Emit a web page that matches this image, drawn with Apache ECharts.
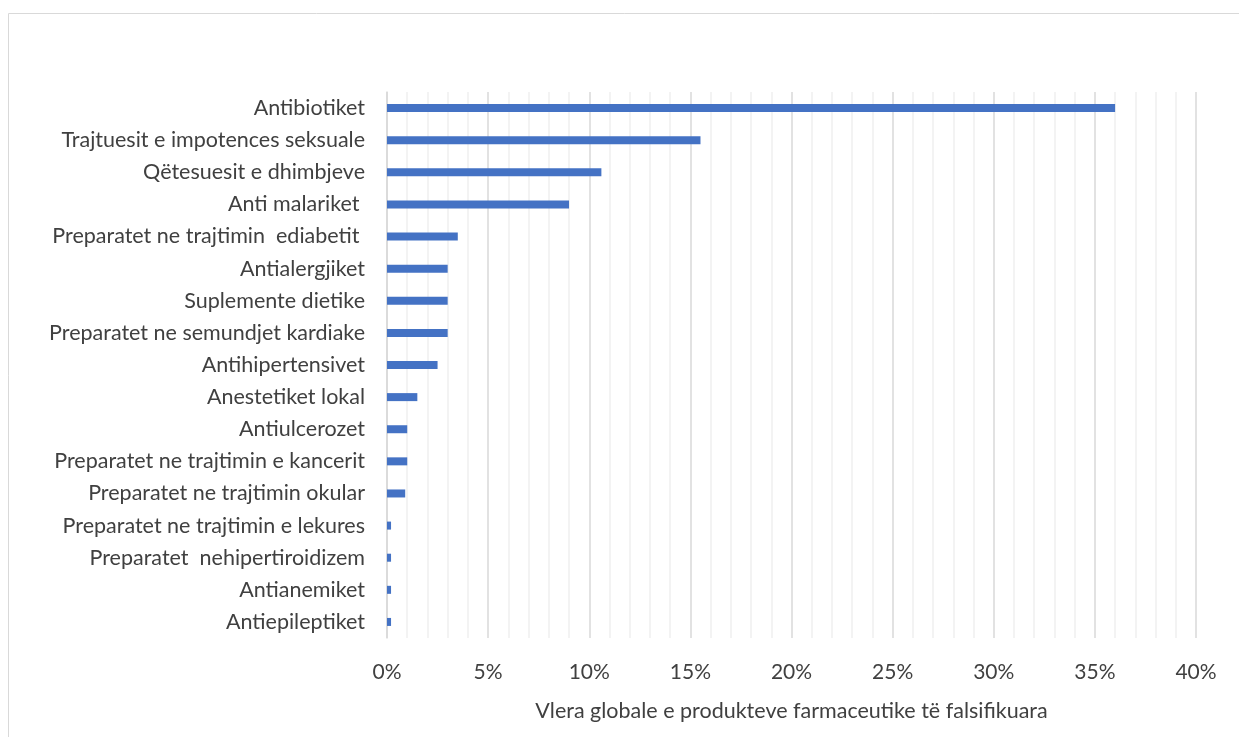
<!DOCTYPE html>
<html>
<head>
<meta charset="utf-8">
<script src="https://cdn.jsdelivr.net/npm/echarts@6/dist/echarts.min.js"></script>
<style>html,body{margin:0;padding:0;background:#fff}#c{width:1239px;height:737px}</style>
</head>
<body>
<div id="c"></div>
<script>
const categories = [
  "Antibiotiket",
  "Trajtuesit e impotences seksuale",
  "Qëtesuesit e dhimbjeve",
  "Anti malariket ",
  "Preparatet ne trajtimin  ediabetit ",
  "Antialergjiket",
  "Suplemente dietike",
  "Preparatet ne semundjet kardiake",
  "Antihipertensivet",
  "Anestetiket lokal",
  "Antiulcerozet",
  "Preparatet ne trajtimin e kancerit",
  "Preparatet ne trajtimin okular",
  "Preparatet ne trajtimin e lekures",
  "Preparatet  nehipertiroidizem",
  "Antianemiket",
  "Antiepileptiket"
];
const values = [36.0, 15.5, 10.6, 9.0, 3.5, 3.0, 3.0, 3.0, 2.5, 1.5, 1.0, 1.0, 0.9, 0.2, 0.2, 0.2, 0.2];
const xTicks = { min: 0, max: 40, interval: 5 };
const xAxisName = "Vlera globale e produkteve farmaceutike të falsifikuara";

const chart = echarts.init(document.getElementById('c'));
chart.setOption({
  animation: false,
  graphic: [{
    type: 'rect', shape: { x: 8.5, y: 13.5, width: 1240, height: 740 },
    style: { fill: 'none', stroke: '#d9d9d9', lineWidth: 1 }, silent: true, z: -10
  }],
  grid: { left: 387, right: 43, top: 92, bottom: 99, containLabel: false },
  xAxis: {
    type: 'value', min: xTicks.min, max: xTicks.max, interval: xTicks.interval,
    name: xAxisName, nameLocation: 'middle', nameGap: 62,
    nameTextStyle: { fontFamily: 'Lato', fontSize: 21.5, color: '#404040' },
    axisLine: { show: false }, axisTick: { show: false },
    axisLabel: { formatter: v => v + '%', fontFamily: 'Lato', fontSize: 21, color: '#404040', margin: 24 },
    splitLine: { show: true, lineStyle: { color: '#d9d9d9', width: 1.5 } },
    minorTick: { show: false, splitNumber: 5 },
    minorSplitLine: { show: true, lineStyle: { color: '#efefef', width: 1.5 } }
  },
  yAxis: {
    type: 'category', data: categories, inverse: true,
    axisLine: { show: true, lineStyle: { color: '#d9d9d9', width: 1.5 } },
    axisTick: { show: false },
    axisLabel: { fontFamily: 'Lato', fontSize: 21.5, color: '#404040', margin: 22 }
  },
  series: [{
    type: 'bar', data: values, barWidth: 8,
    itemStyle: { color: '#4472C4' }
  }]
});
</script>
</body>
</html>
